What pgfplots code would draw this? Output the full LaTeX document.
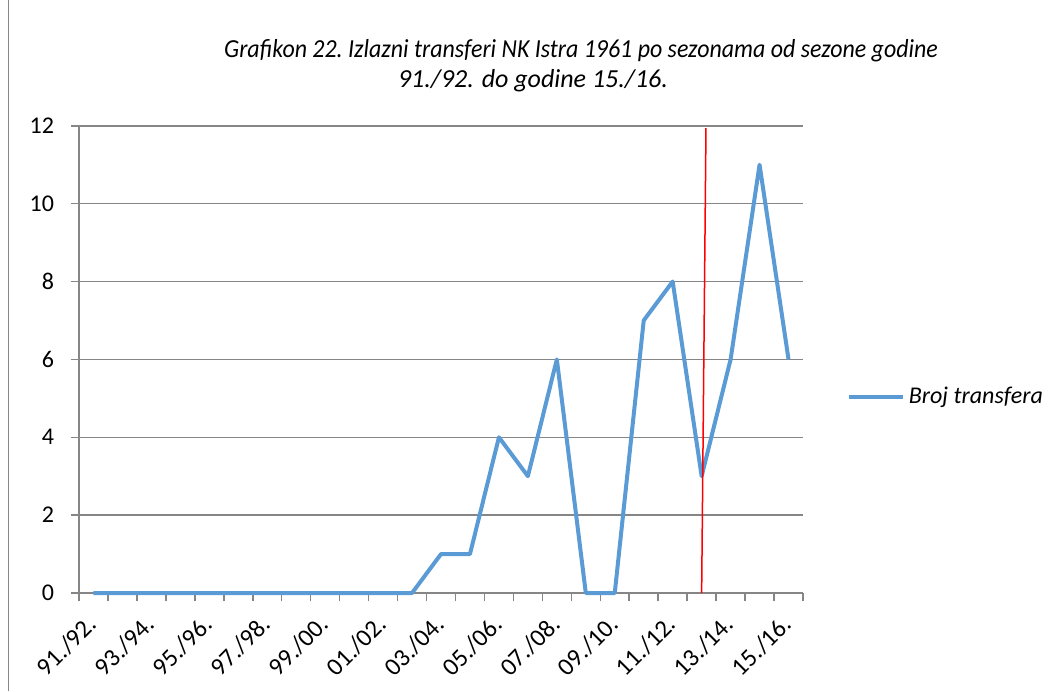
\documentclass[border=0pt]{standalone}
\usepackage{pgfplots}
\pgfplotsset{compat=1.18}
\usepackage{fontspec}
\setmainfont{Carlito}
\newfontfamily\titlefont[FakeStretch=0.92]{Carlito}
\definecolor{exblue}{RGB}{91,155,213}
\definecolor{exgray}{RGB}{134,134,134}
\begin{document}
\begin{tikzpicture}
\useasboundingbox (0,0) rectangle (526.5pt,345.5pt);
\draw[exgray, line width=0.75pt] (4.25pt,0) -- (4.25pt,345.5pt);
\node[anchor=base, font=\titlefont\itshape\fontsize{13}{15}\selectfont] at (290.5pt,316.5pt) {Grafikon 22.\ Izlazni transferi\ NK Istra 1961 po sezonama od sezone godine};
\node[anchor=base, font=\itshape\fontsize{13}{15}\selectfont] at (266.5pt,301.5pt) {91./92. do godine 15./16.};
\begin{axis}[
 at={(39.5pt,49pt)}, anchor=south west,
 scale only axis, width=362pt, height=233.6pt,
 xmin=-0.5, xmax=24.5, ymin=0, ymax=12,
 xtick={0,2,...,24},
 xticklabels={91./92.,93./94.,95./96.,97./98.,99./00.,01./02.,03./04.,05./06.,07./08.,09./10.,11./12.,13./14.,15./16.},
 minor xtick={-0.5,0.5,...,24.5},
 ytick={0,2,...,12},
 ymajorgrids, grid style={exgray, line width=0.75pt},
 axis x line*=bottom, axis y line*=left,
 axis line style={-, exgray, line width=0.75pt},
 tick align=outside,
 major tick length=4pt, minor tick length=4pt,
 tick style={exgray, line width=0.75pt},
 major x tick style={draw=none},
 xticklabel style={yshift=-7pt, xshift=2pt, rotate=45, anchor=east, font=\fontsize{12.5}{14}\selectfont},
 yticklabel style={xshift=-5pt, font=\fontsize{12}{14}\selectfont},
 /pgf/number format/assume math mode=true,
 clip=false,
 legend style={draw=none, at={(1.06,0.42)}, anchor=west, font=\itshape\fontsize{12}{14}\selectfont, inner sep=0pt},
 legend image code/.code={\draw[#1] (0pt,0pt) -- (27pt,0pt);},
]
\addplot[exblue, line width=2pt, line join=round] coordinates {
(0,0) (1,0) (2,0) (3,0) (4,0) (5,0) (6,0) (7,0) (8,0) (9,0) (10,0) (11,0)
(12,1) (13,1) (14,4) (15,3) (16,6) (17,0) (18,0) (19,7) (20,8) (21,3) (22,6) (23,11) (24,6)};
\addlegendentry{Broj transfera}
\addplot[red, line width=0.75pt, forget plot] coordinates {(21,0) (21.15,11.94)};
\end{axis}
\end{tikzpicture}
\end{document}
